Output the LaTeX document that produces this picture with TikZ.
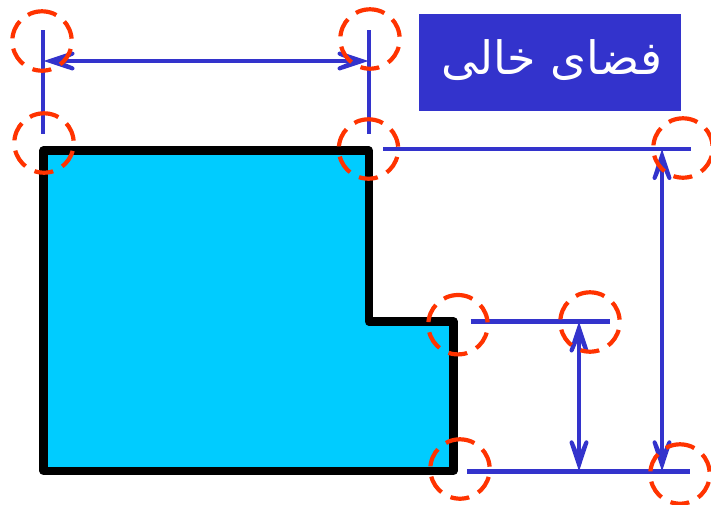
\documentclass[tikz,border=0pt]{standalone}
\usepackage{fontspec}
\newfontfamily\arabicfont[Script=Arabic]{DejaVu Sans}
\TeXXeTstate=1
\definecolor{dimblue}{HTML}{3333CC}
\definecolor{shapecyan}{HTML}{00CCFF}
\definecolor{ringred}{HTML}{FF3300}
\tikzset{
  dimline/.style={draw=dimblue,line width=4.4pt},
  dimshaft/.style={dimline,shorten >=6pt,shorten <=6pt},
  dimhead/.pic={
    \fill[dimblue] (0,0)--(-28.5,9.4)--(-29.5,5.4)--(-19,1)--(-19,-1)--(-29.5,-5.4)--(-28.5,-9.4)--cycle;
    \fill[dimblue] (-29,7.4) circle[radius=2];
    \fill[dimblue] (-29,-7.4) circle[radius=2];
  },
  ring/.style={draw=ringred,line width=4.2pt,dash pattern=on 19pt off 10.3pt,dash phase=4pt},
  profile/.style={draw=black,fill=shapecyan,line width=8.2pt,line join=round},
  labelbox/.style={fill=dimblue,inner sep=0pt,minimum width=262pt,minimum height=97pt}
}
\begin{document}
\begin{tikzpicture}[x=1pt,y=-1pt]
\useasboundingbox (0,0) rectangle (711,504);
% profile
\coordinate (p1) at (43.5,150.5);
\coordinate (p2) at (368.7,150.5);
\coordinate (p3) at (368.7,321.5);
\coordinate (p4) at (453.5,321.5);
\coordinate (p5) at (453.5,470.7);
\coordinate (p6) at (43.5,470.7);
\draw[profile] (p1)--(p2)--(p3)--(p4)--(p5)--(p6)--cycle;
% label
\node[labelbox] (title) at (550,62.5) {};
\node[text=white,font=\arabicfont\fontsize{46}{52}\selectfont,inner sep=0pt] (titletext) at (552,60) {\beginR فضای خالی\endR};
% extension lines
\coordinate (a1) at (43,30);\coordinate (a2) at (43,134);
\coordinate (b1) at (369,30);\coordinate (b2) at (369,134);
\coordinate (c1) at (383,149);\coordinate (c2) at (691,149);
\coordinate (d1) at (470.5,321.5);\coordinate (d2) at (610,321.5);
\coordinate (e1) at (467,471.3);\coordinate (e2) at (690,471.3);
\draw[dimline] (a1)--(a2);
\draw[dimline] (b1)--(b2);
\draw[dimline] (c1)--(c2);
\draw[dimline] (d1)--(d2);
\draw[dimline] (e1)--(e2);
% dimension arrows
\coordinate (f1) at (43.5,61);\coordinate (f2) at (368.5,61);
\coordinate (g1) at (579,321.5);\coordinate (g2) at (579,471.3);
\coordinate (h1) at (662,149);\coordinate (h2) at (662,471.3);
\draw[dimshaft] (f1)--(f2);
\draw[dimshaft] (g1)--(g2);
\draw[dimshaft] (h1)--(h2);
\pic[rotate=180] at (f1) {dimhead};
\pic at (f2) {dimhead};
\pic[rotate=90] at (g1) {dimhead};
\pic[rotate=-90] at (g2) {dimhead};
\pic[rotate=90] at (h1) {dimhead};
\pic[rotate=-90] at (h2) {dimhead};
% rings
\foreach \cx/\cy in {42/41,370/39,44/143,368.5/149,683/148,458/324.7,590/322,460/469,680/474}{
  \draw[ring] (\cx,\cy-29.7) arc[start angle=-90,delta angle=360,radius=29.7];
}
\end{tikzpicture}
\end{document}
